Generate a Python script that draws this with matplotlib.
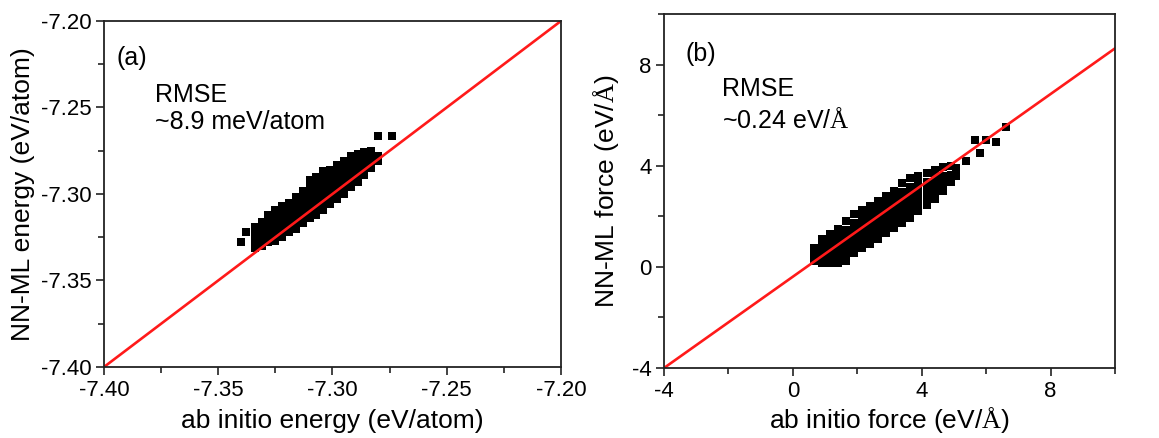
import numpy as np
import matplotlib
matplotlib.use('Agg')
import matplotlib.pyplot as plt

plt.rcParams['font.family'] = ['Liberation Sans', 'DejaVu Sans']
plt.rcParams['mathtext.fontset'] = 'custom'
plt.rcParams['mathtext.rm'] = 'Liberation Serif'
plt.rcParams['axes.unicode_minus'] = False

# (a) energy parity: ab initio value -> NN-ML values read column by column
energy_columns = [
    (-7.334, [-7.331, -7.327, -7.323, -7.319]),
    (-7.331, [-7.330, -7.326, -7.322, -7.318, -7.316]),
    (-7.328, [-7.328, -7.324, -7.320, -7.316, -7.312]),
    (-7.325, [-7.327, -7.323, -7.319, -7.315, -7.311, -7.309]),
    (-7.322, [-7.325, -7.321, -7.317, -7.313, -7.309, -7.307]),
    (-7.319, [-7.322, -7.318, -7.314, -7.310, -7.306, -7.305]),
    (-7.316, [-7.320, -7.316, -7.312, -7.308, -7.304, -7.302]),
    (-7.313, [-7.317, -7.313, -7.309, -7.305, -7.301, -7.298]),
    (-7.310, [-7.314, -7.310, -7.306, -7.302, -7.298, -7.294, -7.292]),
    (-7.307, [-7.312, -7.308, -7.304, -7.300, -7.296, -7.292, -7.290]),
    (-7.304, [-7.309, -7.305, -7.301, -7.297, -7.293, -7.289, -7.287]),
    (-7.301, [-7.306, -7.302, -7.298, -7.294, -7.290, -7.286]),
    (-7.298, [-7.303, -7.299, -7.295, -7.291, -7.287, -7.283]),
    (-7.295, [-7.300, -7.296, -7.292, -7.288, -7.284, -7.281]),
    (-7.292, [-7.296, -7.292, -7.288, -7.284, -7.280, -7.278]),
    (-7.289, [-7.293, -7.289, -7.285, -7.281, -7.277]),
    (-7.286, [-7.289, -7.285, -7.281, -7.277, -7.276]),
    (-7.283, [-7.285, -7.281, -7.277, -7.275]),
    (-7.280, [-7.281, -7.278]),
]
energy_extra_x = [-7.338, -7.340, -7.280, -7.274]
energy_extra_y = [-7.322, -7.328, -7.2665, -7.2665]
energy_line = ([-7.40, -7.20], [-7.40, -7.20])

# (b) force parity, same layout
force_columns = [
    (0.65, [0.25, 0.50, 0.75]),
    (0.90, [0.17, 0.47, 0.77, 1.10]),
    (1.15, [0.17, 0.47, 0.77, 1.07, 1.30]),
    (1.40, [0.17, 0.47, 0.77, 1.07, 1.37, 1.50]),
    (1.65, [0.25, 0.55, 0.85, 1.15, 1.45, 1.80]),
    (1.90, [0.55, 0.85, 1.15, 1.45, 1.75, 2.10]),
    (2.15, [0.75, 1.05, 1.35, 1.65, 1.95, 2.25]),
    (2.40, [0.90, 1.20, 1.50, 1.80, 2.10, 2.40]),
    (2.65, [1.10, 1.40, 1.70, 2.00, 2.30, 2.60]),
    (2.90, [1.35, 1.65, 1.95, 2.25, 2.55, 2.80]),
    (3.15, [1.55, 1.85, 2.15, 2.45, 2.75, 3.00]),
    (3.40, [1.75, 2.05, 2.35, 2.65, 2.95, 3.30]),
    (3.65, [1.95, 2.25, 2.55, 2.85, 3.15, 3.50]),
    (3.90, [2.20, 2.50, 2.80, 3.10, 3.40, 3.60]),
    (4.15, [2.45, 2.75, 3.05, 3.35, 3.70]),
    (4.40, [2.70, 3.00, 3.30, 3.60, 3.85]),
    (4.65, [3.00, 3.30, 3.60, 3.95]),
    (4.90, [3.35, 3.65, 4.00]),
    (5.05, [3.60, 3.90]),
]
force_extra_x = [5.38, 5.64, 6.00, 6.31, 5.80, 6.62]
force_extra_y = [4.20, 5.00, 5.00, 4.95, 4.50, 5.55]
force_line = ([-4, 10], [-4, 8.64])


def flatten(columns, extra_x, extra_y):
    xs = [x for x, ys in columns for _ in ys] + list(extra_x)
    ys = [y for _, col in columns for y in col] + list(extra_y)
    return np.array(xs), np.array(ys)


def style_axes(ax, lim, major, minor):
    ax.set_xlim(lim)
    ax.set_ylim(lim)
    ax.set_xticks(np.arange(lim[0], lim[1] + 1e-9, major))
    ax.set_yticks(np.arange(lim[0], lim[1] + 1e-9, major))
    ax.set_xticks(np.arange(lim[0], lim[1] + 1e-9, minor), minor=True)
    ax.set_yticks(np.arange(lim[0], lim[1] + 1e-9, minor), minor=True)
    ax.tick_params(which='both', direction='out', color='#222222',
                   top=False, right=False, width=1.2)
    ax.tick_params(which='major', length=6, labelsize=16, pad=3)
    ax.tick_params(which='minor', length=4)
    for s in ax.spines.values():
        s.set_color('#222222')
        s.set_linewidth(1.3)


fig = plt.figure(figsize=(11.59, 4.38), dpi=100)
ax1 = fig.add_axes([0.0897, 0.1621, 0.3943, 0.790])
ax2 = fig.add_axes([0.5729, 0.1598, 0.3891, 0.8082])

ex, ey = flatten(energy_columns, energy_extra_x, energy_extra_y)
ax1.plot(ex, ey, 's', color='black', ms=6, mew=0)
ax1.plot(*energy_line, color='#ff1a1a', lw=1.9)
style_axes(ax1, (-7.40, -7.20), 0.05, 0.025)
ax1.xaxis.set_major_formatter(matplotlib.ticker.FormatStrFormatter('%.2f'))
ax1.yaxis.set_major_formatter(matplotlib.ticker.FormatStrFormatter('%.2f'))
ax1.set_xlabel('ab initio energy (eV/atom)', fontsize=19)
ax1.set_ylabel('NN-ML energy (eV/atom)', fontsize=19)
ax1.xaxis.set_label_coords(0.5, -0.12)
ax1.yaxis.set_label_coords(-0.15, 0.5)
ax1.text(0.028, 0.893, '(a)', transform=ax1.transAxes, fontsize=18, va='center')
ax1.text(0.112, 0.786, 'RMSE', transform=ax1.transAxes, fontsize=18, va='center')
ax1.text(0.112, 0.708, '~8.9 meV/atom', transform=ax1.transAxes, fontsize=18, va='center')

fx, fy = flatten(force_columns, force_extra_x, force_extra_y)
ax2.plot(fx, fy, 's', color='black', ms=6, mew=0)
ax2.plot(*force_line, color='#ff1a1a', lw=1.9)
style_axes(ax2, (-4, 10), 4, 2)
ax2.set_xlabel(r'ab initio force (eV/$\mathrm{\AA}$)', fontsize=19)
ax2.set_ylabel(r'NN-ML force (eV/$\mathrm{\AA}$)', fontsize=19)
ax2.xaxis.set_label_coords(0.5, -0.105)
ax2.yaxis.set_label_coords(-0.095, 0.5)
ax2.text(0.047, 0.887, '(b)', transform=ax2.transAxes, fontsize=18, va='center')
ax2.text(0.129, 0.788, 'RMSE', transform=ax2.transAxes, fontsize=18, va='center')
ax2.text(0.129, 0.698, r'~0.24 eV/$\mathrm{\AA}$', transform=ax2.transAxes, fontsize=18, va='center')

fig.savefig('out.png', dpi=100)
